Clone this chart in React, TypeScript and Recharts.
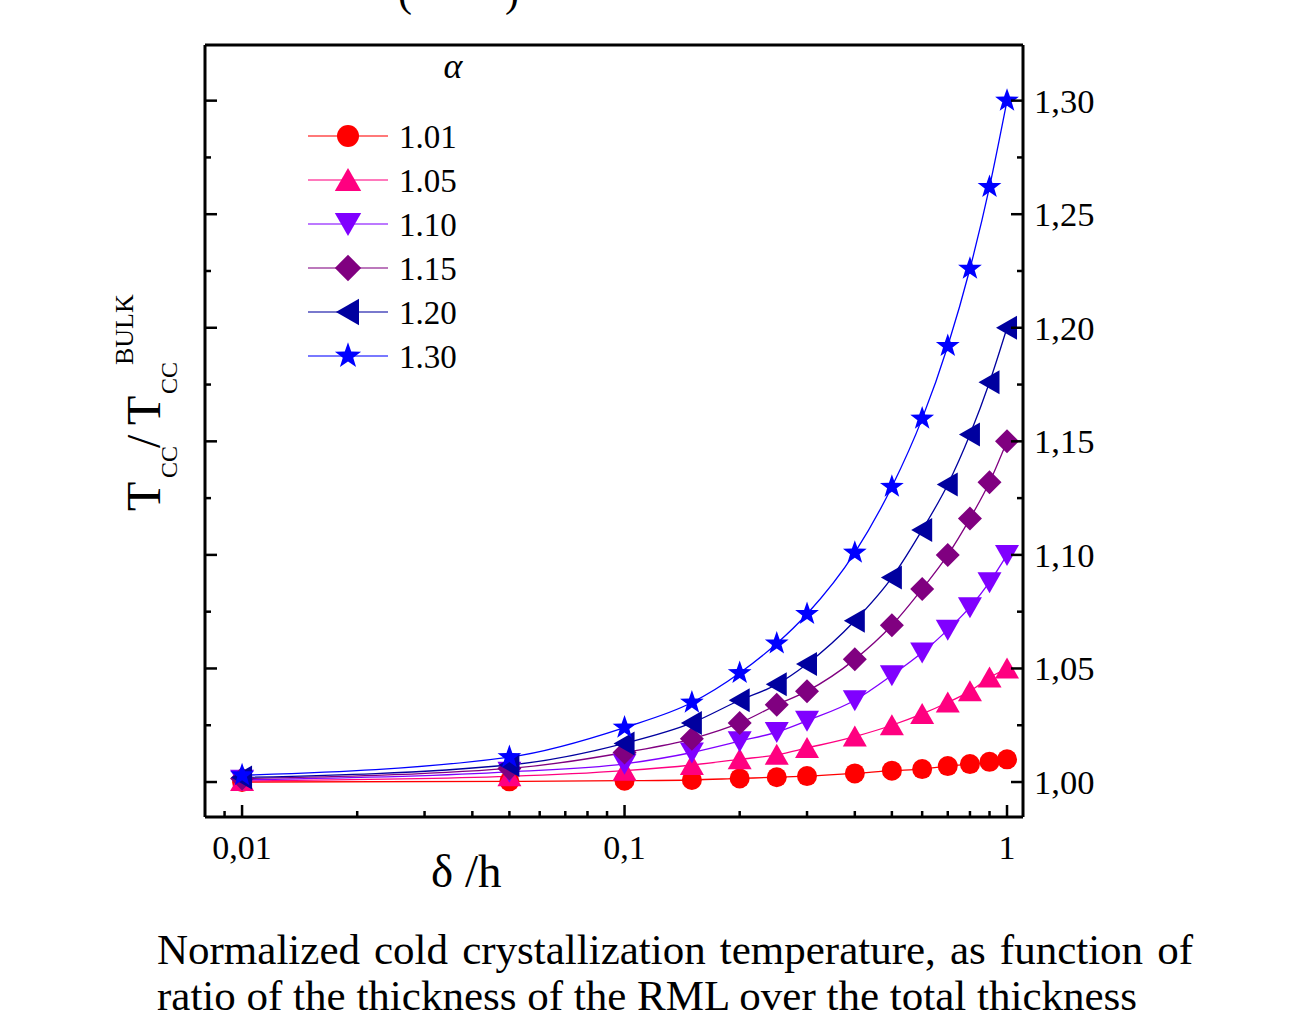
import React from "react";
import { LineChart, Line, XAxis, YAxis, Legend } from "recharts";

// δ/h values where the model was evaluated
const deltaH = [0.01, 0.05, 0.1, 0.15, 0.2, 0.25, 0.3, 0.4, 0.5, 0.6, 0.7, 0.8, 0.9, 1.0];

// Tcc / Tcc(bulk) for each alpha
const alpha101 = [1.0, 1.0003, 1.0006, 1.0009, 1.0016, 1.0021, 1.0026, 1.0038, 1.005, 1.0057, 1.007, 1.0079, 1.0089, 1.01];
const alpha105 = [1.0005, 1.0025, 1.005, 1.0075, 1.01, 1.012, 1.015, 1.02, 1.025, 1.03, 1.035, 1.04, 1.046, 1.05];
const alpha110 = [1.001, 1.0045, 1.008, 1.013, 1.018, 1.022, 1.027, 1.036, 1.047, 1.057, 1.067, 1.077, 1.088, 1.1];
const alpha115 = [1.0015, 1.006, 1.013, 1.019, 1.026, 1.034, 1.04, 1.054, 1.069, 1.085, 1.1, 1.116, 1.132, 1.15];
const alpha120 = [1.002, 1.0075, 1.017, 1.026, 1.036, 1.043, 1.052, 1.071, 1.09, 1.111, 1.131, 1.153, 1.176, 1.2];
const alpha130 = [1.003, 1.011, 1.024, 1.035, 1.048, 1.061, 1.074, 1.101, 1.13, 1.16, 1.192, 1.226, 1.262, 1.3];

const xMajorTicks = [0.01, 0.1, 1];
const xMinorTicks = [0.009, 0.02, 0.03, 0.04, 0.05, 0.06, 0.07, 0.08, 0.09, 0.2, 0.3, 0.4, 0.5, 0.6, 0.7, 0.8, 0.9];
const yMajorTicks = [1.0, 1.05, 1.1, 1.15, 1.2, 1.25, 1.3];
const yMinorTicks = [1.025, 1.075, 1.125, 1.175, 1.225, 1.275];

const xTicks = [...xMajorTicks, ...xMinorTicks].sort((a, b) => a - b);
const yTicks = [...yMajorTicks, ...yMinorTicks].sort((a, b) => a - b);

const SERIES = [
  { key: "a101", name: "1.01", color: "#FF0000", shape: "circle" },
  { key: "a105", name: "1.05", color: "#FF0080", shape: "up" },
  { key: "a110", name: "1.10", color: "#8000FF", shape: "down" },
  { key: "a115", name: "1.15", color: "#800080", shape: "diamond" },
  { key: "a120", name: "1.20", color: "#00009F", shape: "left" },
  { key: "a130", name: "1.30", color: "#0000FF", shape: "star" },
];

const data = deltaH.map((d, i) => ({
  d,
  a101: alpha101[i],
  a105: alpha105[i],
  a110: alpha110[i],
  a115: alpha115[i],
  a120: alpha120[i],
  a130: alpha130[i],
}));

const FONT = '"Liberation Serif", "Times New Roman", serif';
const isMajor = (list: number[], v: number) => list.some((m) => Math.abs(m - v) < 1e-9);

function starPath(cx: number, cy: number, R: number) {
  const r = R * 0.4;
  let p = "";
  for (let i = 0; i < 10; i++) {
    const rad = i % 2 === 0 ? R : r;
    const a = -Math.PI / 2 + (i * Math.PI) / 5;
    p += (i === 0 ? "M" : "L") + (cx + rad * Math.cos(a)).toFixed(2) + "," + (cy + rad * Math.sin(a)).toFixed(2);
  }
  return p + "Z";
}

function Marker({ cx, cy, shape, color, s = 1 }: any) {
  if (cx == null || cy == null) return null;
  switch (shape) {
    case "circle":
      return <circle cx={cx} cy={cy} r={10 * s} fill={color} />;
    case "up":
      return <polygon points={`${cx},${cy - 11 * s} ${cx - 12 * s},${cy + 10 * s} ${cx + 12 * s},${cy + 10 * s}`} fill={color} />;
    case "down":
      return <polygon points={`${cx},${cy + 11 * s} ${cx - 12 * s},${cy - 10 * s} ${cx + 12 * s},${cy - 10 * s}`} fill={color} />;
    case "diamond":
      return <polygon points={`${cx},${cy - 12 * s} ${cx + 12 * s},${cy} ${cx},${cy + 12 * s} ${cx - 12 * s},${cy}`} fill={color} />;
    case "left":
      return <polygon points={`${cx - 11 * s},${cy} ${cx + 10 * s},${cy - 12 * s} ${cx + 10 * s},${cy + 12 * s}`} fill={color} />;
    default:
      return <path d={starPath(cx, cy, 12.5 * s)} fill={color} />;
  }
}

const TICK_W = 2.5;

// ticks are drawn inward by hand, tickSize / tickMargin are 0 so x,y sit on the axis line
const BottomTick = ({ x, y, payload }: any) => {
  const major = isMajor(xMajorTicks, payload.value);
  return (
    <g>
      <line x1={x} y1={y} x2={x} y2={y - (major ? 12 : 6)} stroke="#000" strokeWidth={TICK_W} />
      {major && (
        <text x={x} y={y + 42} textAnchor="middle" fontFamily={FONT} fontSize={34} fill="#000">
          {String(payload.value).replace(".", ",")}
        </text>
      )}
    </g>
  );
};

const TopTick = ({ x, y, payload }: any) => {
  const major = isMajor(xMajorTicks, payload.value);
  return <line x1={x} y1={y} x2={x} y2={y + (major ? 12 : 6)} stroke="#000" strokeWidth={TICK_W} />;
};

const RightTick = ({ x, y, payload }: any) => {
  const major = isMajor(yMajorTicks, payload.value);
  return (
    <g>
      <line x1={x} y1={y} x2={x - (major ? 12 : 6)} y2={y} stroke="#000" strokeWidth={TICK_W} />
      {major && (
        <text x={x + 11} y={y + 12} textAnchor="start" fontFamily={FONT} fontSize={34.5} fill="#000">
          {payload.value.toFixed(2).replace(".", ",")}
        </text>
      )}
    </g>
  );
};

const LeftTick = ({ x, y, payload }: any) => {
  const major = isMajor(yMajorTicks, payload.value);
  return <line x1={x} y1={y} x2={x + (major ? 12 : 6)} y2={y} stroke="#000" strokeWidth={TICK_W} />;
};

const renderLegend = (props: any) => {
  const payload = props.payload || [];
  return (
    <svg width={220} height={340} style={{ overflow: "visible" }}>
      <text x={163} y={38} textAnchor="middle" fontFamily={FONT} fontStyle="italic" fontSize={36} fill="#000">
        α
      </text>
      {payload.map((entry: any, i: number) => {
        const s = SERIES.find((q) => q.key === entry.dataKey) || SERIES[i];
        const cy = 96 + i * 44;
        return (
          <g key={s.key}>
            <line x1={18} y1={cy} x2={98} y2={cy} stroke={s.color} strokeOpacity={0.7} strokeWidth={1.5} />
            <Marker cx={58} cy={cy} shape={s.shape} color={s.color} s={1.1} />
            <text x={109} y={cy + 12} fontFamily={FONT} fontSize={33} fill="#000">
              {s.name}
            </text>
          </g>
        );
      })}
    </svg>
  );
};

export default function App() {
  return (
    <div style={{ position: "fixed", left: 0, top: 0, width: 1308, height: 1018, background: "#fff", overflow: "hidden" }}>
      <svg width={1308} height={1018} style={{ position: "absolute", left: 0, top: 0 }}>
        {/* remains of the caption above */}
        <text x={398} y={6} fontFamily={FONT} fontSize={42} fill="#000">(</text>
        <text x={505} y={6} fontFamily={FONT} fontSize={42} fill="#000">)</text>
        {/* y title */}
        <text transform="translate(160,511) rotate(-90)" fontFamily={FONT} fill="#000">
          <tspan x={0} y={0} fontSize={48}>T</tspan>
          <tspan x={33} y={17} fontSize={24}>CC</tspan>
          <tspan x={63} y={0} fontSize={48}>/</tspan>
          <tspan x={86} y={0} fontSize={48}>T</tspan>
          <tspan x={117} y={17} fontSize={24}>CC</tspan>
          <tspan x={146} y={-27} fontSize={26}>BULK</tspan>
        </text>
        {/* x title */}
        <text x={431} y={887} fontFamily={FONT} fontSize={47} fill="#000">δ /h</text>
      </svg>

      <div style={{ position: "absolute", left: 0, top: 0 }}>
        <LineChart width={1308} height={1018} data={data} margin={{ top: 44, right: 185, bottom: 141, left: 204 }}>
          <XAxis
            xAxisId="x"
            dataKey="d"
            type="number"
            scale="log"
            domain={[0.008, 1.101]}
            allowDataOverflow
            ticks={xTicks}
            interval={0}
            height={60}
            tickSize={0}
            tickMargin={0}
            tickLine={false}
            axisLine={{ stroke: "#000", strokeWidth: 3 }}
            tick={BottomTick}
          />
          <XAxis
            xAxisId="top"
            orientation="top"
            type="number"
            scale="log"
            domain={[0.008, 1.101]}
            allowDataOverflow
            ticks={xTicks}
            interval={0}
            height={1}
            tickSize={0}
            tickMargin={0}
            tickLine={false}
            axisLine={{ stroke: "#000", strokeWidth: 3 }}
            tick={TopTick}
          />
          <YAxis
            yAxisId="r"
            orientation="right"
            type="number"
            domain={[0.9846, 1.3245]}
            allowDataOverflow
            ticks={yTicks}
            interval={0}
            width={100}
            tickSize={0}
            tickMargin={0}
            tickLine={false}
            axisLine={{ stroke: "#000", strokeWidth: 3 }}
            tick={RightTick}
          />
          <YAxis
            yAxisId="l"
            orientation="left"
            type="number"
            domain={[0.9846, 1.3245]}
            allowDataOverflow
            ticks={yTicks}
            interval={0}
            width={1}
            tickSize={0}
            tickMargin={0}
            tickLine={false}
            axisLine={{ stroke: "#000", strokeWidth: 3 }}
            tick={LeftTick}
          />
          <Legend
            layout="vertical"
            align="center"
            verticalAlign="middle"
            content={renderLegend}
            wrapperStyle={{ left: 290, top: 40, width: 220, height: 340 }}
          />
          {SERIES.map((s) => (
            <Line
              key={s.key}
              xAxisId="x"
              yAxisId="r"
              type="monotone"
              dataKey={s.key}
              name={s.name}
              stroke={s.color}
              strokeWidth={1.3}
              isAnimationActive={false}
              activeDot={false}
              dot={(p: any) => <Marker key={`${s.key}-${p.index}`} cx={p.cx} cy={p.cy} shape={s.shape} color={s.color} />}
            />
          ))}
        </LineChart>
      </div>

      <div
        style={{
          position: "absolute",
          left: 157,
          top: 927,
          width: 1036,
          fontFamily: FONT,
          fontSize: 43,
          lineHeight: "46px",
          textAlign: "justify",
          color: "#000",
        }}
      >
        Normalized cold crystallization temperature, as function of ratio of the thickness of the RML over the total
        thickness
      </div>
    </div>
  );
}
